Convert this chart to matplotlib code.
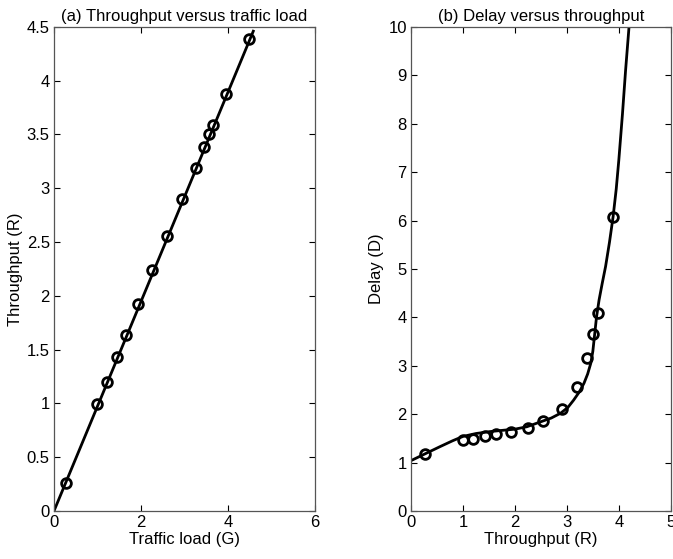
import matplotlib.pyplot as plt

plt.rcParams["font.family"] = ["Liberation Sans", "DejaVu Sans"]
plt.rcParams["font.size"] = 12

# (a) throughput vs traffic load
load_pts = [0.27, 1.0, 1.21, 1.44, 1.66, 1.94, 2.25, 2.6, 2.94, 3.26, 3.45, 3.56, 3.66, 3.95, 4.48]
thru_pts = [0.26, 0.99, 1.2, 1.43, 1.64, 1.92, 2.24, 2.56, 2.9, 3.19, 3.38, 3.5, 3.59, 3.88, 4.39]
load_line = [0, 4.58]
thru_line = [0, 4.46]

# (b) delay vs throughput
r_pts = [0.27, 1.0, 1.2, 1.42, 1.64, 1.92, 2.25, 2.55, 2.9, 3.19, 3.38, 3.51, 3.59, 3.89]
d_pts = [1.18, 1.46, 1.49, 1.55, 1.58, 1.64, 1.72, 1.85, 2.11, 2.57, 3.17, 3.66, 4.10, 6.07]
r_curve = [0.0, 0.25, 0.56, 0.8, 1.0, 1.25, 1.52, 1.8, 2.0, 2.23, 2.49, 2.7, 2.88, 3.02, 3.13, 3.24,
           3.33, 3.4, 3.46, 3.5, 3.53, 3.57, 3.62, 3.68, 3.745, 3.82, 3.89, 3.95, 4.0, 4.07, 4.13, 4.2]
d_curve = [1.04, 1.17, 1.33, 1.45, 1.54, 1.6, 1.64, 1.67, 1.69, 1.74, 1.84, 1.92, 2.02, 2.14, 2.29, 2.46,
           2.64, 2.83, 3.05, 3.3, 3.6, 4.0, 4.36, 4.7, 5.05, 5.55, 6.08, 6.65, 7.25, 8.2, 9.1, 10.05]

fig = plt.figure(figsize=(6.73, 5.59), dpi=100)
ax1 = fig.add_axes([0.0802, 0.0859, 0.388, 0.866])
ax2 = fig.add_axes([0.6107, 0.0859, 0.386, 0.866])

ax1.plot(load_line, thru_line, color="black", linewidth=2)
ax1.plot(load_pts, thru_pts, "o", markersize=7, markerfacecolor="none",
         markeredgecolor="black", markeredgewidth=2)
ax1.set_xlim(0, 6)
ax1.set_ylim(0, 4.5)
ax1.set_xticks([0, 2, 4, 6])
ax1.set_yticks([0, 0.5, 1, 1.5, 2, 2.5, 3, 3.5, 4, 4.5])
ax1.set_yticklabels(["0", "0.5", "1", "1.5", "2", "2.5", "3", "3.5", "4", "4.5"])
ax1.set_xlabel("Traffic load (G)", labelpad=1)
ax1.set_ylabel("Throughput (R)", labelpad=3)
ax1.set_title("(a) Throughput versus traffic load", fontsize=12, pad=4)

ax2.plot(r_curve, d_curve, color="black", linewidth=2)
ax2.plot(r_pts, d_pts, "o", markersize=7, markerfacecolor="none",
         markeredgecolor="black", markeredgewidth=2)
ax2.set_xlim(0, 5)
ax2.set_ylim(0, 10)
ax2.set_xticks([0, 1, 2, 3, 4, 5])
ax2.set_yticks(range(11))
ax2.set_xlabel("Throughput (R)", labelpad=1)
ax2.set_ylabel("Delay (D)", labelpad=3)
ax2.set_title("(b) Delay versus throughput", fontsize=12, pad=4)

for ax in (ax1, ax2):
    ax.tick_params(direction="in", top=True, right=True, length=4, width=0.8,
                   labelsize=12, colors="black", pad=3)
    for s in ax.spines.values():
        s.set_color("#555555")
        s.set_linewidth(0.9)

fig.savefig("out.png", dpi=100)
